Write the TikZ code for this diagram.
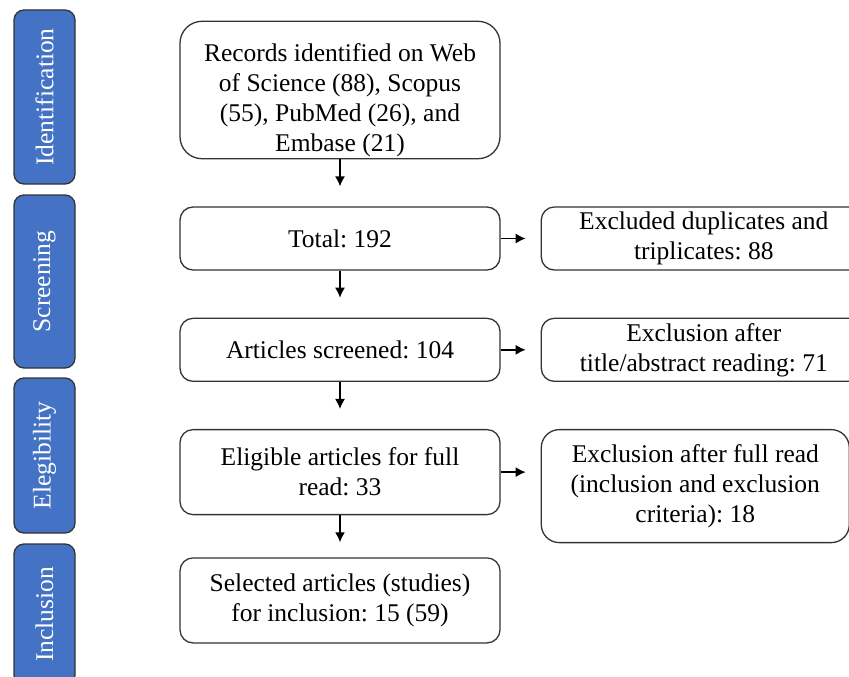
\documentclass[tikz,border=0pt]{standalone}
\usepackage{fontspec}
\setmainfont{Liberation Serif}
\frenchspacing
\usetikzlibrary{arrows,arrows.meta,shapes,positioning}
\definecolor{phaseblue}{HTML}{4472C4}

\begin{document}
\begin{tikzpicture}[x=1pt, y=-1pt,
		basic/.style  = {draw=black!80, line width=1.3pt, align=center, inner sep=2pt, font=\fontsize{25.5}{30}\selectfont},
		flow/.style   = {basic, rounded corners=13pt, minimum width=320pt, minimum height=63pt},
		side/.style   = {basic, rounded corners=13pt, minimum width=325pt, minimum height=63pt},
		phase/.style  = {basic, fill=phaseblue, text=white, rounded corners=10pt, rotate=90, minimum height=61pt},
		link/.style   = {->, line width=1.4pt},
		>={Latex[length=10pt,width=10pt]}]
		
		\useasboundingbox (0,0) rectangle (849,677);
		\clip (0,0) rectangle (849,677);
		
		% phases on the left
		\node[phase, minimum width=174pt] (p1) at (44.5,97) {Identification};
		\node[phase, minimum width=173pt] (p2) at (44.5,281.5) {Screening};
		\node[phase, minimum width=155pt] (p3) at (44.5,455.5) {Elegibility};
		\node[phase, minimum width=141pt] (p4) at (44.5,614.5) {Inclusion};
		
		% main column
		\node[flow, rounded corners=22pt, minimum height=136pt] (rec) at (340,90)
			{\rule{0pt}{38pt}Records identified on Web\\of Science (88), Scopus\\(55), PubMed (26), and\\Embase (21)};
		\node[flow, below=47pt of rec] (tot) {Total: 192};
		\node[flow, below=47pt of tot] (art) {Articles screened: 104};
		\node[flow, below=47pt of art, minimum height=85pt] (eli) {Eligible articles for full\\read: 33};
		\node[flow, below=42pt of eli, minimum height=85pt] (sel) {Selected articles (studies)\\for inclusion: 15 (59)};
		
		% exclusions, right column
		\node[side, right=40pt of tot] (dup) {Excluded duplicates and\\triplicates: 88};
		\node[side, right=40pt of art] (ttl) {Exclusion after\\title/abstract reading: 71};
		\node[side, right=40pt of eli.north east, anchor=north west, minimum width=308pt, minimum height=113pt, rounded corners=18pt] (full)
			{Exclusion after full read\\(inclusion and exclusion\\criteria): 18};
		
		% arrows down the main column
		\foreach \from/\to/\gap in {rec/tot/20, tot/art/20, art/eli/20, eli/sel/15}
		\draw[link, shorten >=\gap pt] (\from.south) -- (\from.south |- \to.north);
		
		% arrows to the exclusions
		\foreach \from/\to in {tot/dup, art/ttl, eli/full}
		\draw[link, shorten >=15pt] (\from.east) -- (\from.east -| \to.west);
		
	\end{tikzpicture}
\end{document}
